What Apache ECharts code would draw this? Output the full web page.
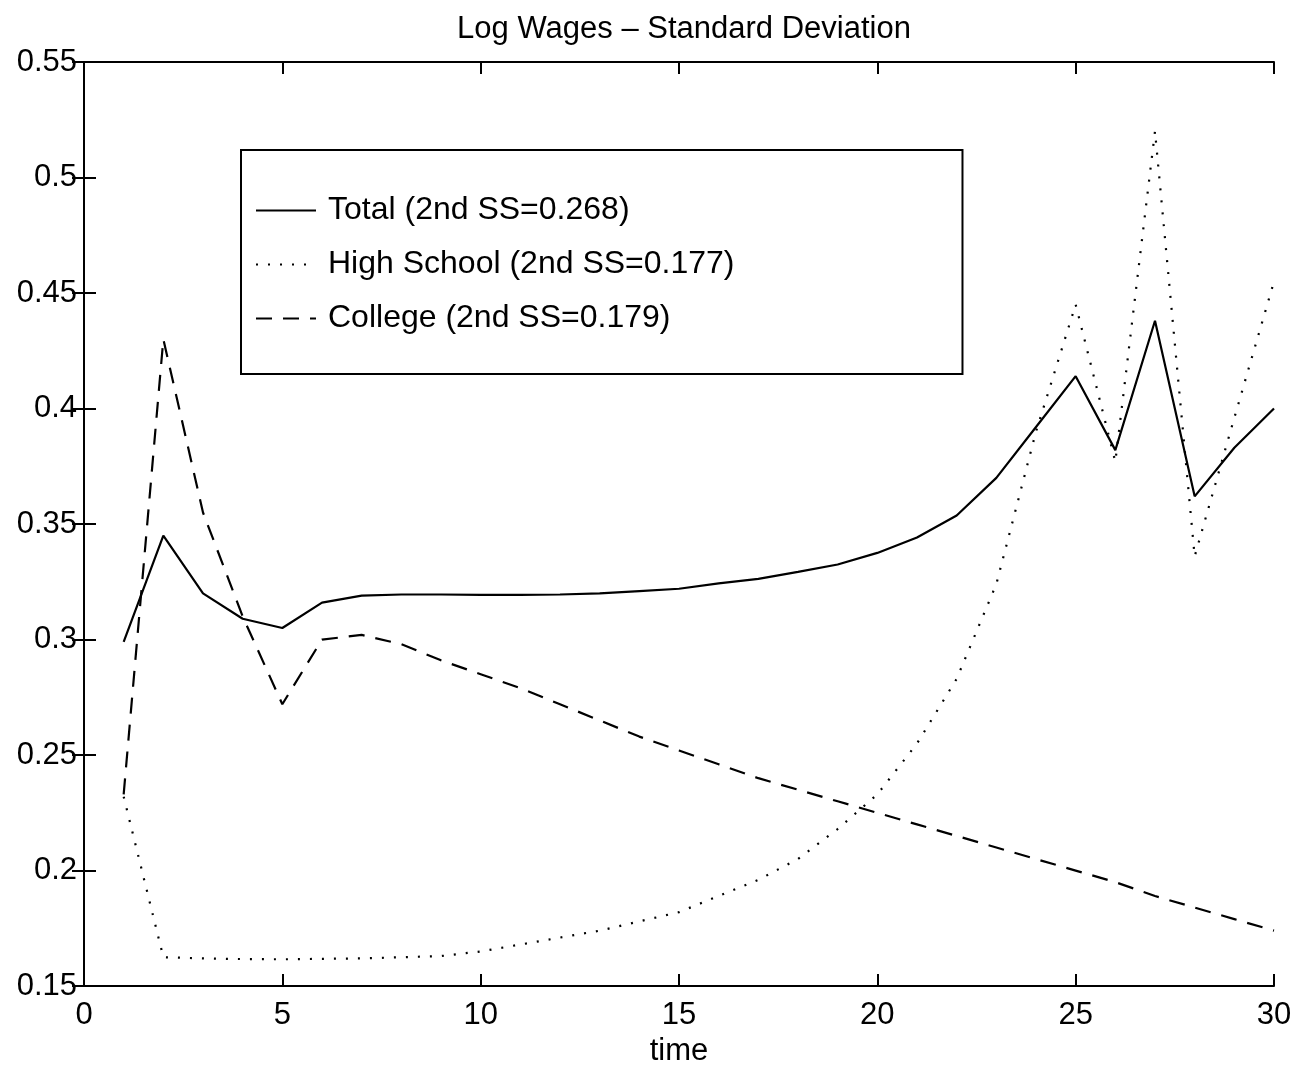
<!DOCTYPE html>
<html>
<head>
<meta charset="utf-8">
<script src="https://cdn.jsdelivr.net/npm/echarts@6/dist/echarts.min.js"></script>
<style>
html,body{margin:0;padding:0;background:#fff;}
#chart{width:1297px;height:1072px;}
</style>
</head>
<body>
<div id="chart"></div>
<script>
var time = [1,2,3,4,5,6,7,8,9,10,11,12,13,14,15,16,17,18,19,20,21,22,23,24,25,26,27,28,29,30];
var totalSD = [0.299,0.345,0.320,0.309,0.305,0.316,0.319,0.3195,0.3195,0.3193,0.3193,0.3195,0.320,0.321,0.322,0.3243,0.3263,0.3293,0.3325,0.3375,0.3442,0.3537,0.370,0.392,0.414,0.382,0.438,0.362,0.383,0.400];
var highSchoolSD = [0.232,0.1625,0.162,0.1617,0.1616,0.1618,0.162,0.1625,0.163,0.165,0.168,0.171,0.174,0.178,0.182,0.189,0.196,0.205,0.218,0.233,0.255,0.283,0.324,0.390,0.445,0.377,0.520,0.336,0.396,0.455];
var collegeSD = [0.233,0.430,0.355,0.310,0.272,0.300,0.302,0.298,0.291,0.285,0.279,0.272,0.265,0.258,0.252,0.246,0.240,0.235,0.230,0.225,0.220,0.215,0.210,0.205,0.200,0.195,0.189,0.184,0.179,0.174];
var seriesNames = ['Total (2nd SS=0.268)','High School (2nd SS=0.177)','College (2nd SS=0.179)'];
var xTicks = [0,5,10,15,20,25,30];
var yTicks = [0.15,0.2,0.25,0.3,0.35,0.4,0.45,0.5,0.55];

function pairs(ys){ return time.map(function(t,i){ return [t, ys[i]]; }); }

var FONT = 'Liberation Sans, Arial, Helvetica, sans-serif';
var chart = echarts.init(document.getElementById('chart'), null, {renderer:'canvas'});
var axisLine = {show:true, lineStyle:{color:'#000', width:2}};
var tick = {show:true, inside:true, length:12, lineStyle:{color:'#000', width:2}};
chart.setOption({
  backgroundColor:'#fff',
  animation:false,
  title:{
    text:'Log Wages \u2013 Standard Deviation',
    left:679, textAlign:'center', top:9,
    textStyle:{fontFamily:FONT, fontSize:31, fontWeight:'normal', color:'#000'}
  },
  legend:{
    orient:'vertical',
    left:241, top:150,
    padding:[44,228,39,14],
    borderColor:'#000', borderWidth:2,
    backgroundColor:'#fff',
    itemWidth:60, itemHeight:14, itemGap:21,
    itemStyle:{color:'rgba(0,0,0,0)', borderWidth:0, opacity:0},
    textStyle:{fontFamily:FONT, fontSize:32, color:'#000', lineHeight:33, padding:[0,0,0,7]},
    data:seriesNames
  },
  grid:{left:84, right:23, top:62, bottom:79, show:false},
  xAxis:[{
    type:'value', min:0, max:30, interval:5,
    name:'time', nameLocation:'middle', nameGap:48,
    nameTextStyle:{fontFamily:FONT, fontSize:31, color:'#000'},
    axisLine:axisLine, axisTick:tick, splitLine:{show:false},
    axisLabel:{fontFamily:FONT, fontSize:31, color:'#000', margin:14,
      formatter:function(v){ return String(v); }}
  },{
    type:'value', position:'top', min:0, max:30, interval:5,
    axisLine:axisLine, axisTick:tick, splitLine:{show:false}, axisLabel:{show:false}
  }],
  yAxis:[{
    type:'value', min:0.15, max:0.55, interval:0.05,
    axisLine:axisLine, axisTick:tick, splitLine:{show:false},
    axisLabel:{fontFamily:FONT, fontSize:31, color:'#000', margin:7,
      formatter:function(v){ return (Math.round(v*100)/100).toString(); }}
  },{
    type:'value', position:'right', min:0.15, max:0.55, interval:0.05,
    axisLine:axisLine, axisTick:tick, splitLine:{show:false}, axisLabel:{show:false}
  }],
  series:[{
    name:seriesNames[0], type:'line', xAxisIndex:0, yAxisIndex:0,
    data:pairs(totalSD), symbol:'none', smooth:false,
    lineStyle:{color:'#000', width:2.2, type:'solid'}, itemStyle:{color:'#000'}
  },{
    name:seriesNames[1], type:'line', xAxisIndex:0, yAxisIndex:0,
    data:pairs(highSchoolSD), symbol:'none', smooth:false,
    lineStyle:{color:'#000', width:2.2, type:[2,10]}, itemStyle:{color:'#000'}
  },{
    name:seriesNames[2], type:'line', xAxisIndex:0, yAxisIndex:0,
    data:pairs(collegeSD), symbol:'none', smooth:false,
    lineStyle:{color:'#000', width:2.2, type:[16,11]}, itemStyle:{color:'#000'}
  }]
});
</script>
</body>
</html>
